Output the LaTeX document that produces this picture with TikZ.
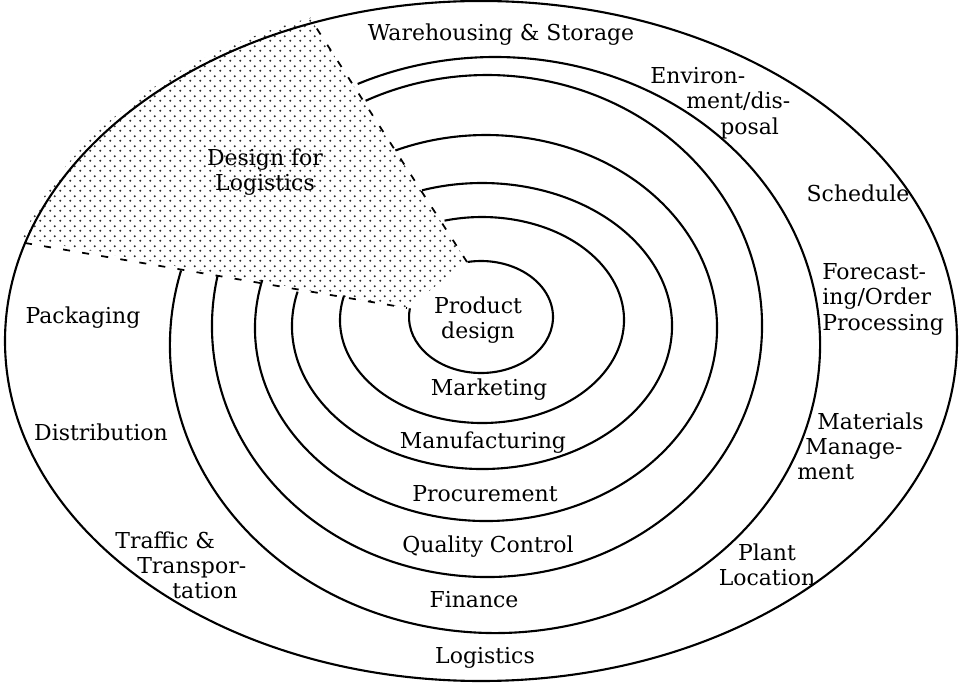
\documentclass[tikz,border=0pt]{standalone}
\usepackage{fontspec}
\setmainfont{DejaVu Serif}
\usetikzlibrary{patterns}
\pgfdeclarepatternformonly{dotgrid}{\pgfpointorigin}{\pgfqpoint{5.4pt}{5.4pt}}%
  {\pgfqpoint{5.4pt}{5.4pt}}{%
  \pgfpathcircle{\pgfqpoint{1.35pt}{1.35pt}}{0.62pt}%
  \pgfpathcircle{\pgfqpoint{4.05pt}{4.05pt}}{0.62pt}%
  \pgfusepath{fill}}

\begin{document}
\begin{tikzpicture}[x=0.02cm,y=0.02cm,
  ring/.style={line width=1.2pt},
  cut/.style={line width=1pt,dash pattern=on 4pt off 7pt},
  lbl/.style={font=\fontsize{12.5}{14.5}\selectfont,inner sep=0pt}]
  \useasboundingbox (0,0) rectangle (959,683);
  % shaded wedge
  \coordinate (wtop) at (310,665);
  \coordinate (wleft) at (25,440);
  \coordinate (wbot) at (407,375);
  \coordinate (wtip) at (467,421);
  \fill[pattern=dotgrid,pattern color=black!80] (wtop)
    arc[start angle=110.7, end angle=163.3, x radius=476, y radius=340]
    -- (wbot) -- (wtip) -- cycle;
  \draw[cut] (wleft) -- (wbot);
  \draw[cut] (wtip) -- (wtop);
  % outer ellipse
  \draw[ring] (481,342) ellipse [x radius=476, y radius=340];
  % rings, innermost first
  \foreach \cx/\cy/\rx/\ry/\a/\b in {481/366/72/56/171.1/460.8,
      482/363/142/103/166.3/465.3, 482/357/190/143/166.1/468.4,
      486/355/231/193/165.6/473.1, 487/357/275/251/168.3/476.2,
      495/338/325/288/165/475}
    \draw[ring] (\cx,\cy) ++(\a:{\rx} and {\ry})
      arc[start angle=\a, end angle=\b, x radius=\rx, y radius=\ry];
  % inner labels
  \node[lbl,align=center] (prod) at (478,363) {Product\\design};
  \node[lbl] (mkt) at (489,293) {Marketing};
  \node[lbl] (manu) at (483,240) {Manufacturing};
  \node[lbl] (proc) at (485,189) {Procurement};
  \node[lbl] (qc) at (488,136) {Quality Control};
  \node[lbl] (fin) at (474,83) {Finance};
  \node[lbl] (logi) at (485,25) {Logistics};
  \node[lbl,align=center] (dfl) at (265,511) {Design for\\Logistics};
  % outer band
  \node[lbl] (ware) at (501,648) {Warehousing \& Storage};
  \node[lbl,align=left,anchor=north west] (env) at (650,616)
    {Environ-\\\hspace*{0.72cm}ment/dis-\\\hspace*{1.4cm}posal};
  \node[lbl] (sched) at (858,490) {Schedule};
  \node[lbl,align=left,anchor=north west] (fore) at (822,420)
    {Forecast-\\ing/Order\\Processing};
  \node[lbl,align=left,anchor=north west] (mat) at (797,271)
    {\hspace*{0.4cm}Materials\\\hspace*{0.16cm}Manage-\\ment};
  \node[lbl,align=center] (plant) at (767,118) {Plant\\Location};
  \node[lbl] (pack) at (83,365) {Packaging};
  \node[lbl] (dist) at (101,251) {Distribution};
  \node[lbl,align=left,anchor=north west] (traf) at (115,152)
    {Traffic \&\\\hspace*{0.44cm}Transpor-\\\hspace*{1.14cm}tation};
\end{tikzpicture}
\end{document}
